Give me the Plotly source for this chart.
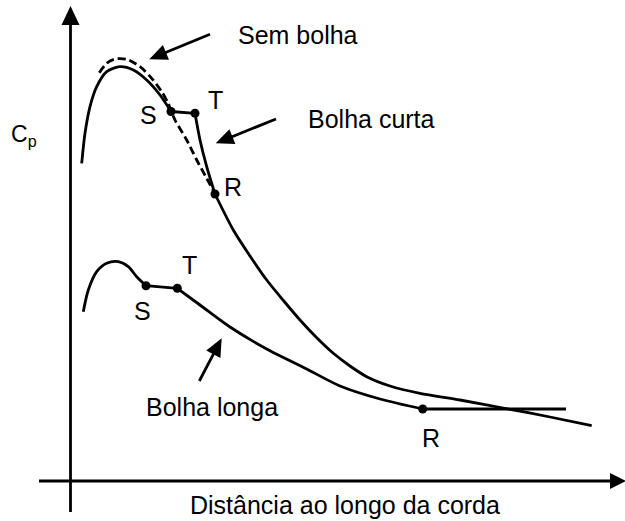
import math
import plotly.graph_objects as go

# Canvas coordinates (pixels, y downward) for the schematic curves
W, H = 625, 521

# Short bubble curve (solid) ahead of separation point S
short_lead_x = [81.7, 85.0, 90.0, 96.7, 106.7, 120.0, 133.3, 146.7, 160.0, 171.0]
short_lead_y = [163.3, 133.3, 106.7, 86.7, 71.7, 66.7, 70.0, 80.0, 95.0, 111.5]
# Bubble: S -> T plateau, T -> R reattachment
short_bub_x = [171.0, 195.0, 200.0, 206.7, 215.0]
short_bub_y = [111.5, 113.3, 140.0, 166.7, 194.0]
# Downstream of reattachment R
short_tail_x = [215.0, 233.3, 250.0, 266.7, 283.0, 300.0, 316.0, 333.0, 350.0, 366.7, 390.0, 420.0, 460.0, 510.0, 550.0, 591.7]
short_tail_y = [194.0, 230.0, 256.0, 280.0, 300.0, 320.0, 337.0, 353.0, 366.0, 376.7, 386.0, 393.3, 400.0, 409.3, 417.0, 425.7]

# No-bubble curve (dashed)
nob_x = [99.3, 106.7, 115.0, 126.7, 140.0, 151.7, 161.7, 168.0, 175.0, 186.7, 196.7, 206.7, 215.0]
nob_y = [72.7, 63.3, 59.0, 59.3, 66.7, 78.3, 91.7, 103.0, 120.0, 140.0, 160.0, 178.3, 194.0]

# Long bubble curve
long_lead_x = [83.3, 88.3, 96.7, 106.7, 118.3, 128.3, 136.7, 146.0]
long_lead_y = [311.7, 290.0, 271.7, 263.3, 261.7, 266.7, 276.7, 285.7]
long_bub_x = [146.0, 177.3]
long_bub_y = [285.7, 288.3]
long_tail_x = [177.3, 200.0, 230.0, 266.7, 306.7, 340.0, 380.0, 422.7]
long_tail_y = [288.3, 305.0, 327.0, 349.0, 369.0, 386.0, 399.0, 409.0]
long_flat_x = [422.7, 566.0]
long_flat_y = [409.0, 409.0]

# Marked points S, T, R on each curve
pts_x = [171.0, 195.0, 215.0, 146.0, 177.3, 422.7]
pts_y = [111.5, 113.3, 194.0, 285.7, 288.3, 409.0]
pt_labels = ["S", "T", "R", "S", "T", "R"]
pt_lab_x = [148.5, 215.5, 232.5, 142.5, 189.0, 431.0]
pt_lab_y = [114.5, 100.0, 187.0, 311.0, 265.0, 438.0]

# Callout texts and their arrows (tail -> tip)
callouts = ["Sem bolha", "Bolha curta", "Bolha longa"]
callout_x = [236.0, 306.0, 144.0]
callout_y = [34.5, 119.0, 406.5]
arrow_tail = [(210.0, 34.3), (276.0, 119.0), (199.3, 381.0)]
arrow_tip = [(149.3, 59.3), (215.7, 143.3), (221.7, 338.3)]

FONT = "Liberation Sans, Arial, sans-serif"
LW = 2.8

fig = go.Figure()


def curve(x, y, spline=True, dash="solid"):
    fig.add_trace(go.Scatter(
        x=x, y=y, mode="lines",
        line=dict(color="black", width=LW, shape="spline" if spline else "linear",
                  smoothing=0.8, dash=dash),
        hoverinfo="skip", showlegend=False))


curve(nob_x, nob_y, dash="8px,4px")
curve(short_lead_x, short_lead_y)
curve(short_bub_x[:2], short_bub_y[:2], spline=False)
curve(short_bub_x[1:], short_bub_y[1:])
curve(short_tail_x, short_tail_y)
curve(long_lead_x, long_lead_y)
curve(long_bub_x, long_bub_y, spline=False)
curve(long_tail_x, long_tail_y)
curve(long_flat_x, long_flat_y, spline=False)

fig.add_trace(go.Scatter(
    x=pts_x, y=pts_y, mode="markers",
    marker=dict(color="black", size=9),
    hoverinfo="skip", showlegend=False))


def arrow(tail, tip, head_len, head_w, lw=LW):
    (x0, y0), (x1, y1) = tail, tip
    d = math.hypot(x1 - x0, y1 - y0)
    ux, uy = (x1 - x0) / d, (y1 - y0) / d
    bx, by = x1 - ux * head_len, y1 - uy * head_len
    px, py = -uy, ux
    fig.add_shape(type="line", x0=x0, y0=y0, x1=bx + ux, y1=by + uy,
                  line=dict(color="black", width=lw))
    path = (f"M {x1},{y1} L {bx + px * head_w / 2},{by + py * head_w / 2} "
            f"L {bx - px * head_w / 2},{by - py * head_w / 2} Z")
    fig.add_shape(type="path", path=path, fillcolor="black",
                  line=dict(color="black", width=0))


# Axes with arrowheads
arrow((70.5, 512.0), (70.5, 6.0), 19, 18)
arrow((39.0, 481.0), (626.0, 481.0), 16, 16)

for t, a in zip(arrow_tail, arrow_tip):
    arrow(t, a, 18, 16)

for lab, x, y in zip(pt_labels, pt_lab_x, pt_lab_y):
    fig.add_annotation(x=x, y=y, text=lab, showarrow=False,
                       xanchor="center", yanchor="middle",
                       font=dict(family=FONT, size=25, color="black"))

for lab, x, y in zip(callouts, callout_x, callout_y):
    fig.add_annotation(x=x, y=y, text=lab, showarrow=False,
                       xanchor="left", yanchor="middle",
                       font=dict(family=FONT, size=25, color="black"))

fig.add_annotation(x=345.0, y=504.5, text="Distância ao longo da corda", showarrow=False,
                   xanchor="center", yanchor="middle",
                   font=dict(family=FONT, size=25, color="black"))
fig.add_annotation(x=9.0, y=135.0, text="C<sub>p</sub>", showarrow=False,
                   xanchor="left", yanchor="middle",
                   font=dict(family=FONT, size=23, color="black"))

fig.update_xaxes(range=[0, W], visible=False, fixedrange=True)
fig.update_yaxes(range=[H, 0], visible=False, fixedrange=True)
fig.update_layout(width=W, height=H, margin=dict(l=0, r=0, t=0, b=0),
                  paper_bgcolor="white", plot_bgcolor="white")

fig.write_html("out.html")
